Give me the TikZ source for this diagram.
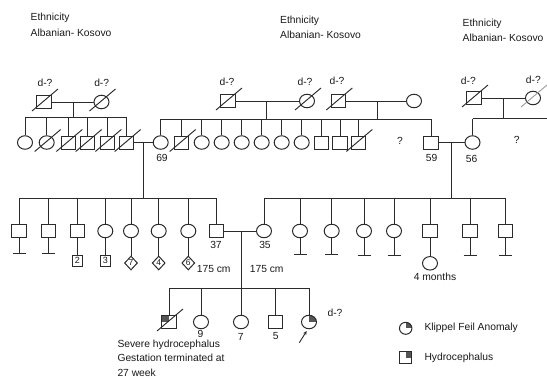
\documentclass[tikz,border=0pt]{standalone}
\usepackage{fontspec}
\setmainfont{Liberation Sans}
\usetikzlibrary{shapes.geometric,arrows.meta,calc}
\definecolor{lin}{HTML}{2B2B2B}
\definecolor{txt}{HTML}{1A1A1A}
\definecolor{qfill}{HTML}{555555}
\definecolor{lightslash}{HTML}{A0A0A0}
\newcommand\decd[2][lin]{\draw[line width=0.95pt,draw=#1] ([shift={(-12,9)}]#2.center) -- ([shift={(14,-13)}]#2.center);}
\newcommand\tbar[3]{\coordinate (#2) at (#3); \draw[ln] (#1) -- (#2); \draw[ln] ([xshift=-6.5]#2) -- ([xshift=6.5]#2);}
\begin{document}
\begin{tikzpicture}[x=1pt,y=-1pt,
  every node/.style={font=\fontsize{10.3}{12}\selectfont, text=txt},
  ln/.style={draw=lin, line width=1pt},
  male/.style={rectangle, draw=lin, line width=1pt, minimum width=14.5pt, minimum height=13pt, inner sep=0pt, fill=white},
  female/.style={ellipse, draw=lin, line width=1pt, minimum width=15pt, minimum height=13.5pt, inner sep=0pt, fill=white},
  smallsq/.style={rectangle, draw=lin, line width=1pt, minimum width=10pt, minimum height=11pt, inner sep=0pt, font=\fontsize{9}{10}\selectfont},
  smalldia/.style={diamond, draw=lin, line width=1pt, minimum width=13pt, minimum height=14pt, inner sep=0pt, font=\fontsize{8.5}{10}\selectfont},
  qur/.style={path picture={\fill[qfill] (path picture bounding box.center) rectangle (path picture bounding box.north east);}},
  qul/.style={path picture={\fill[qfill] (path picture bounding box.center) rectangle (path picture bounding box.north west);}},
  lab/.style={inner sep=0pt}
]
\useasboundingbox (0,0) rectangle (547,381);

% ethnicity texts
\node[lab, anchor=west] (eth1a) at (30.5,18) {Ethnicity};
\node[lab, anchor=west] (eth1b) at (30.5,33) {Albanian- Kosovo};
\node[lab, anchor=west] (eth2a) at (280,20.5) {Ethnicity};
\node[lab, anchor=west] (eth2b) at (280,35) {Albanian- Kosovo};
\node[lab, anchor=west] (eth3a) at (462.5,24) {Ethnicity};
\node[lab, anchor=west] (eth3b) at (462.5,38) {Albanian- Kosovo};

% ===== Generation I =====
\node[male] (sqA) at (44,102) {};
\node[female] (ciA) at (101.5,102) {};
\node[male] (sqB) at (228,101) {};
\node[female] (ciB) at (307,101) {};
\node[male] (sqC) at (338.3,101) {};
\node[female] (ciC) at (414,101) {};
\node[male] (sqD) at (474,98) {};
\node[female] (ciD) at (533,98) {};

\node[lab] (dA1) at (45,83) {d-?};
\node[lab] (dA2) at (101.7,83) {d-?};
\node[lab] (dB1) at (227,82) {d-?};
\node[lab] (dB2) at (305,82) {d-?};
\node[lab] (dC1) at (337,80.5) {d-?};
\node[lab] (dD1) at (468.3,81) {d-?};
\node[lab] (dD2) at (533.3,79.5) {d-?};

\draw[ln] (sqA) -- (ciA);
\draw[ln] (sqB) -- (ciB);
\draw[ln] (sqC) -- (ciC);
\draw[ln] (sqD) -- (ciD);

\coordinate (mA) at (73,102);
\coordinate (bA) at (73,117);
\coordinate (mB) at (266,101);
\coordinate (bB) at (266,119.3);
\coordinate (mC) at (377.3,101);
\coordinate (bC) at (377.3,119.3);
\coordinate (mD) at (503.3,98);
\coordinate (bD) at (503.3,118.5);
\coordinate (eD) at (547,118.5);
\draw[ln] (mA) -- (bA);
\draw[ln] (mB) -- (bB);
\draw[ln] (mC) -- (bC);
\draw[ln] (mD) -- (bD);

% ===== Generation II =====
\node[female] (a1) at (25,142.5) {};
\node[female] (a2) at (46.7,142.5) {};
\node[male] (a3) at (68.3,142.5) {};
\node[male] (a4) at (87.7,142.5) {};
\node[male] (a5) at (107.3,142.5) {};
\node[male] (a6) at (126.7,142.5) {};

\node[female] (b0) at (160.7,142.5) {};
\node[male] (b1) at (181.7,142.5) {};
\node[female] (b2) at (201.7,142.5) {};
\node[female] (b3) at (221.7,142.5) {};
\node[female] (b4) at (241.7,142.5) {};
\node[female] (b5) at (261.7,142.5) {};
\node[female] (b6) at (281.7,142.5) {};
\node[female] (b7) at (301.7,142.5) {};
\node[male] (b8) at (321.7,142.5) {};
\node[male] (b9) at (340,142.5) {};
\node[male] (b10) at (358.3,142.5) {};
\node[male] (b11) at (431,142.5) {};
\node[female] (d1) at (472.5,142.5) {};

\node[lab] (q1) at (400,141) {?};
\node[lab] (q2) at (516.7,139.5) {?};
\node[lab] (l69) at (162,157.5) {69};
\node[lab] (l59) at (431.7,158.3) {59};
\node[lab] (l56) at (471.7,159.3) {56};

% sibship bars gen II
\draw[ln] (a1 |- bA) -- (a6 |- bA);
\foreach \n in {a1,a2,a3,a4,a5,a6} \draw[ln] (\n |- bA) -- (\n);
\draw[ln] (b0 |- bB) -- (b11 |- bB);
\foreach \n in {b0,b1,b2,b3,b4,b5,b6,b7,b8,b9,b10,b11} \draw[ln] (\n |- bB) -- (\n);
\draw[ln] (d1 |- bD) -- (eD);
\draw[ln] (d1 |- bD) -- (d1);

% marriages gen II
\draw[ln] (a6) -- (b0);
\draw[ln] (b11) -- (d1);
\coordinate (mE) at (143.3,142.5);
\coordinate (bE) at (143.3,198.3);
\coordinate (mG) at (451,142.5);
\coordinate (bG) at (451,198.3);
\draw[ln] (mE) -- (bE);
\draw[ln] (mG) -- (bG);

% ===== Generation III =====
\node[male] (e1) at (19,231) {};
\node[male] (e2) at (48.3,231) {};
\node[male] (e3) at (77.3,231) {};
\node[female] (e4) at (105.3,231) {};
\node[female] (e5) at (131,231) {};
\node[female] (e6) at (158.7,231) {};
\node[female] (e7) at (188.3,231) {};
\node[male] (e8) at (216.7,231) {};

\node[female] (g1) at (264,231) {};
\node[female] (g2) at (300,231) {};
\node[female] (g3) at (331.7,231) {};
\node[female] (g4) at (364,231) {};
\node[female] (g5) at (394,231) {};
\node[male] (g6) at (430,231) {};
\node[male] (g7) at (470,231) {};
\node[male] (g8) at (505.7,231) {};

\draw[ln] (e1 |- bE) -- (e8 |- bE);
\foreach \n in {e1,e2,e3,e4,e5,e6,e7,e8} \draw[ln] (\n |- bE) -- (\n);
\draw[ln] (g1 |- bG) -- (g8 |- bG);
\foreach \n in {g1,g2,g3,g4,g5,g6,g7,g8} \draw[ln] (\n |- bG) -- (\n);

\node[lab] (l37) at (216,245) {37};
\node[lab] (l35) at (265,245) {35};
\node[lab] (h175a) at (213.7,269) {175 cm};
\node[lab] (h175b) at (266.7,269) {175 cm};

% no-offspring bars
\tbar{e1}{te1}{19,253.3}
\tbar{e2}{te2}{48.3,253.3}
\tbar{g2}{tg2}{300,254}
\tbar{g3}{tg3}{331.7,254.5}
\tbar{g4}{tg4}{364,255}
\tbar{g5}{tg5}{394,255}
\tbar{g7}{tg7}{470,255.5}
\tbar{g8}{tg8}{505.7,255.5}

% offspring counts
\node[smallsq] (k2) at (77.3,260.7) {2};
\node[smallsq] (k3) at (105.3,260.7) {3};
\node[smalldia] (k7) at (131,263) {7};
\node[smalldia] (k4) at (158.7,263) {4};
\node[smalldia] (k6) at (188.3,263) {6};
\foreach \p/\c in {e3/k2,e4/k3,e5/k7,e6/k4,e7/k6} \draw[ln] (\p) -- (\c);

\node[female] (g6c) at (430,263.3) {};
\draw[ln] (g6) -- (g6c);
\node[lab] (l4m) at (435,277.3) {4 months};

% marriage gen III
\draw[ln] (e8) -- (g1);
\coordinate (mH) at (241,231);
\coordinate (bH) at (241,288.3);
\draw[ln] (mH) -- (bH);

% ===== Generation IV =====
\node[male, qul] (h1) at (169,322) {};
\node[female] (h2) at (201,322) {};
\node[female] (h3) at (241,322) {};
\node[male] (h4) at (275.7,322) {};
\node[female, qur] (h5) at (309,322) {};
\draw[ln] (h1 |- bH) -- (h5 |- bH);
\foreach \n in {h1,h2,h3,h4,h5} \draw[ln] (\n |- bH) -- (\n);

\node[lab] (l9) at (200.5,333.5) {9};
\node[lab] (l7) at (240.7,336.5) {7};
\node[lab] (l5) at (275.7,336.5) {5};
\node[lab] (dP) at (335,313.3) {d-?};

\coordinate (arS) at (299.3,342.7);
\coordinate (arE) at (306.7,331);
\draw[ln, line width=0.9pt, -{Stealth[length=4pt,width=3.5pt]}] (arS) -- (arE);

\node[lab, anchor=west] (sv1) at (117.3,345) {Severe hydrocephalus};
\node[lab, anchor=west] (sv2) at (117.3,358.3) {Gestation terminated at};
\node[lab, anchor=west] (sv3) at (117.3,372.7) {27 week};

% deceased slashes
\foreach \n in {sqA,ciA,sqB,ciB,sqC,sqD,a2,a3,a4,a5,a6,b1,b10,h1} {\decd{\n}}
\decd[lightslash]{ciD}

% legend
\node[female, qur, minimum width=12.5pt, minimum height=12pt] (legC) at (405.7,328.3) {};
\node[lab, anchor=west] (legCt) at (424.3,328.3) {Klippel Feil Anomaly};
\node[male, qur, minimum width=11.5pt, minimum height=11.5pt] (legS) at (405.5,357.5) {};
\node[lab, anchor=west] (legSt) at (424.3,358.3) {Hydrocephalus};
\end{tikzpicture}
\end{document}
